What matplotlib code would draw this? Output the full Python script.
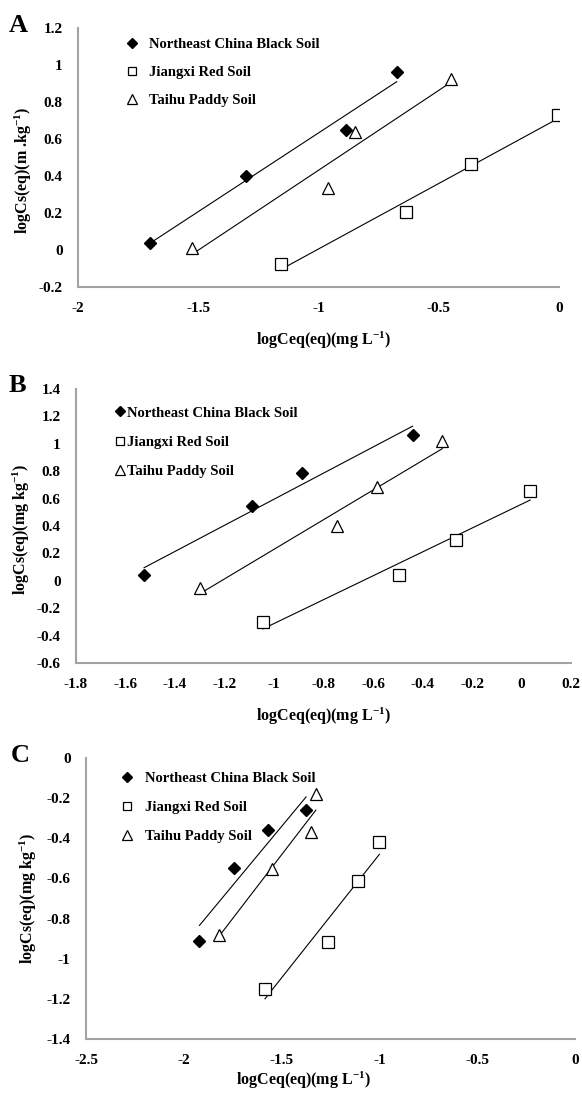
import numpy as np
import matplotlib
matplotlib.use("Agg")
import matplotlib.pyplot as plt
from matplotlib.ticker import FuncFormatter, MultipleLocator

plt.rcParams['font.family'] = ['Liberation Serif', 'DejaVu Serif']
plt.rcParams['font.weight'] = 'bold'
plt.rcParams['mathtext.fontset'] = 'custom'
plt.rcParams['mathtext.rm'] = 'Liberation Serif:bold'
plt.rcParams['mathtext.bf'] = 'Liberation Serif:bold'
plt.rcParams['mathtext.it'] = 'Liberation Serif:bold'
plt.rcParams['axes.unicode_minus'] = False

SOILS = ["Northeast China Black Soil", "Jiangxi Red Soil", "Taihu Paddy Soil"]

# panel A
a_black_x = [-1.70, -1.30, -0.885, -0.675]
a_black_y = [0.04, 0.40, 0.65, 0.965]
a_red_x = [-1.155, -0.635, -0.365, -0.005]
a_red_y = [-0.075, 0.205, 0.465, 0.73]
a_paddy_x = [-1.525, -0.96, -0.85, -0.45]
a_paddy_y = [0.01, 0.335, 0.64, 0.925]

# panel B
b_black_x = [-1.525, -1.09, -0.885, -0.44]
b_black_y = [0.04, 0.545, 0.79, 1.065]
b_red_x = [-1.045, -0.495, -0.265, 0.035]
b_red_y = [-0.30, 0.04, 0.30, 0.655]
b_paddy_x = [-1.30, -0.745, -0.585, -0.32]
b_paddy_y = [-0.05, 0.40, 0.685, 1.02]

# panel C
c_black_x = [-1.92, -1.745, -1.57, -1.375]
c_black_y = [-0.91, -0.55, -0.36, -0.26]
c_red_x = [-1.585, -1.265, -1.11, -1.0]
c_red_y = [-1.15, -0.915, -0.615, -0.42]
c_paddy_x = [-1.82, -1.55, -1.35, -1.325]
c_paddy_y = [-0.88, -0.555, -0.37, -0.18]

XLABEL = "logCeq(eq)(mg L$^{-1}$)"

fig = plt.figure(figsize=(5.82, 10.95), dpi=100)

panels = [
    dict(letter="A", rect=[0.134, 0.7379, 0.8265, 0.2365],
         data=[(a_black_x, a_black_y), (a_red_x, a_red_y), (a_paddy_x, a_paddy_y)],
         xlim=(-2, 0), xstep=0.5, ylim=(-0.2, 1.2), ystep=0.2,
         ylabel="logCs(eq)(m .kg$^{-1}$)", letter_xy=(18, 25),
         xlabel_xy=(0.51, -0.165), ylabel_xy=(-0.092, 0.45),
         leg_anchor=(0.097, 0.963), leg_hl=1.0, leg_pad=0.7, leg_sp=1.02),
    dict(letter="B", rect=[0.1306, 0.3945, 0.8505, 0.2502],
         data=[(b_black_x, b_black_y), (b_red_x, b_red_y), (b_paddy_x, b_paddy_y)],
         xlim=(-1.8, 0.2), xstep=0.2, ylim=(-0.6, 1.4), ystep=0.2,
         ylabel="logCs(eq)(mg kg$^{-1}$)", letter_xy=(17, 386),
         xlabel_xy=(0.5, -0.155), ylabel_xy=(-0.089, 0.49),
         leg_anchor=(0.081, 0.937), leg_hl=0.6, leg_pad=0.15, leg_sp=1.09),
    dict(letter="C", rect=[0.1478, 0.0511, 0.8402, 0.2567],
         data=[(c_black_x, c_black_y), (c_red_x, c_red_y), (c_paddy_x, c_paddy_y)],
         xlim=(-2.5, 0), xstep=0.5, ylim=(-1.4, 0), ystep=0.2,
         ylabel="logCs(eq)(mg kg$^{-1}$)", letter_xy=(20, 755),
         xlabel_xy=(0.445, -0.11), ylabel_xy=(-0.096, 0.5),
         leg_anchor=(0.069, 0.951), leg_hl=1.0, leg_pad=0.7, leg_sp=1.09),
]

styles = [
    dict(marker='D', markersize=6.5, markerfacecolor='black', markeredgecolor='black'),
    dict(marker='s', markersize=8, markerfacecolor='white', markeredgecolor='black', markeredgewidth=0.9),
    dict(marker='^', markersize=8.5, markerfacecolor='white', markeredgecolor='black', markeredgewidth=0.9),
]


def fmt(v, pos):
    return f"{round(v, 2):g}"


for p in panels:
    ax = fig.add_axes(p["rect"])
    for (x, y), st, name in zip(p["data"], styles, SOILS):
        x = np.array(x)
        y = np.array(y)
        k, b = np.polyfit(x, y, 1)
        xs = np.array([x.min(), x.max()])
        ax.plot(xs, k * xs + b, color='black', linewidth=0.8, zorder=2)
        ax.plot(x, y, linestyle='none', label=name, zorder=3, **st)

    ax.set_xlim(*p["xlim"])
    ax.set_ylim(*p["ylim"])
    ax.xaxis.set_major_locator(MultipleLocator(p["xstep"]))
    ax.yaxis.set_major_locator(MultipleLocator(p["ystep"]))
    ax.xaxis.set_major_formatter(FuncFormatter(fmt))
    ax.yaxis.set_major_formatter(FuncFormatter(fmt))
    ax.tick_params(length=0, pad=11, labelsize=11)
    for lab in ax.get_xticklabels() + ax.get_yticklabels():
        lab.set_fontweight('bold')

    for s in ['top', 'right']:
        ax.spines[s].set_visible(False)
    for s in ['left', 'bottom']:
        ax.spines[s].set_color('#a3a3a3')
        ax.spines[s].set_linewidth(1.5)

    ax.set_xlabel(XLABEL, fontsize=11.5, fontweight='bold')
    ax.set_ylabel(p["ylabel"], fontsize=11.5, fontweight='bold')
    ax.xaxis.set_label_coords(*p["xlabel_xy"])
    ax.yaxis.set_label_coords(*p["ylabel_xy"])

    ax.legend(loc='upper left', bbox_to_anchor=p["leg_anchor"], frameon=False,
              prop=dict(family='Liberation Serif', weight='bold', size=10.5),
              handlelength=p["leg_hl"], handletextpad=p["leg_pad"],
              labelspacing=p["leg_sp"], borderpad=0, borderaxespad=0, markerscale=0.8)

    lx, ly = p["letter_xy"]
    fig.text(lx / 582, 1 - ly / 1095, p["letter"], fontsize=19, fontweight='bold',
             ha='center', va='center')

fig.savefig("out.png", dpi=100)
